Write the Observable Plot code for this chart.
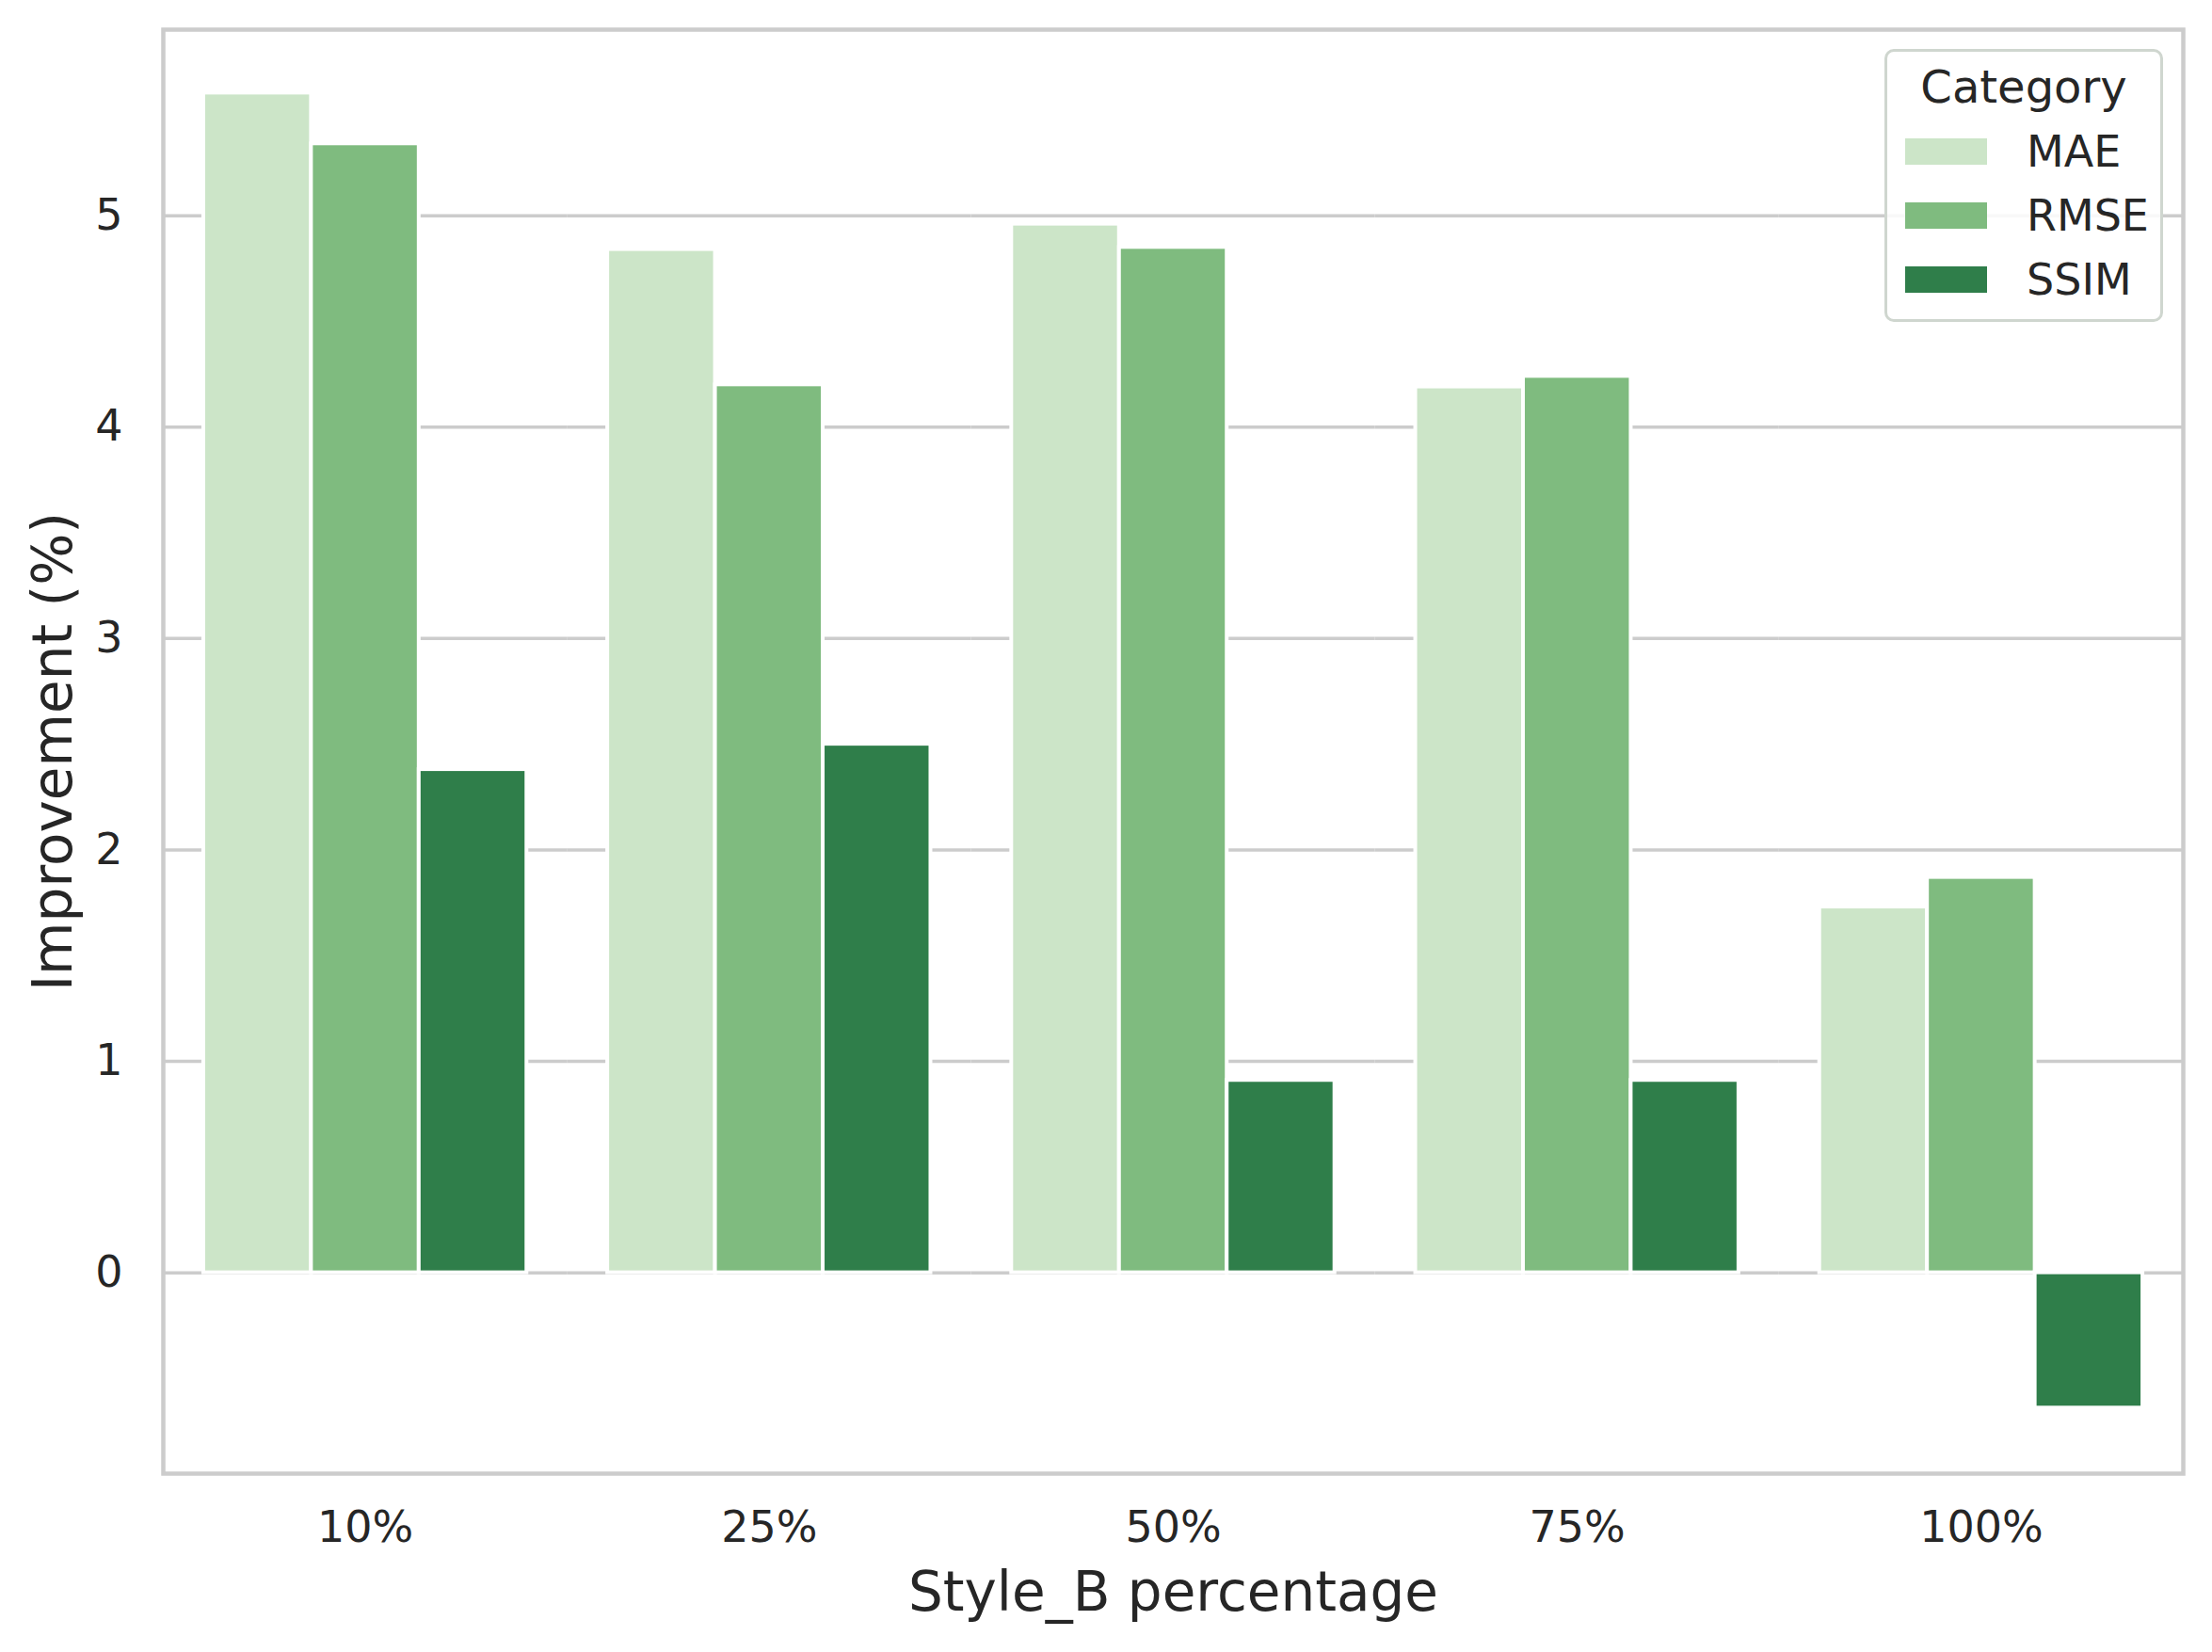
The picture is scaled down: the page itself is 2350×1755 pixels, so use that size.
<!DOCTYPE html>
<html>
<head>
<meta charset="utf-8">
<script src="https://cdn.jsdelivr.net/npm/d3@7"></script>
<script src="https://cdn.jsdelivr.net/npm/@observablehq/plot@0.6"></script>
<style>
  html, body { margin: 0; padding: 0; background: #ffffff; }
  #wrap { position: relative; width: 2350px; height: 1755px; font-family: "DejaVu Sans", sans-serif; }
  #legend {
    position: absolute; left: 2002px; top: 52px; width: 290px; height: 284px;
    border: 3px solid #cfd6cf; border-radius: 10px; background: rgba(255,255,255,0.85);
    color: #262626; font-family: "DejaVu Sans", sans-serif;
  }
  #legend .title { position: absolute; left: 0; width: 100%; top: 9px; text-align: center; font-size: 48px; line-height: 56px; }
  #legend .row { position: absolute; left: 19px; height: 56px; display: flex; align-items: center; }
  #legend .sw { width: 87px; height: 28px; margin-right: 42px; }
  #legend .lab { font-size: 46px; line-height: 56px; }
</style>
</head>
<body>
<div id="wrap"><div id="chart"></div><div id="legend"></div></div>
<script>
const percentages = ["10%", "25%", "50%", "75%", "100%"];
const categories = ["MAE", "RMSE", "SSIM"];
const maeValues = [5.58, 4.84, 4.96, 4.19, 1.73];
const rmseValues = [5.34, 4.20, 4.85, 4.24, 1.87];
const ssimValues = [2.38, 2.50, 0.91, 0.91, -0.64];
const colors = ["#cce5c8", "#7fbb7f", "#2f7e4a"];
const yTicks = [0, 1, 2, 3, 4, 5];
const xTitle = "Style_B percentage";
const yTitle = "Improvement (%)";
const legendTitle = "Category";

const seriesValues = [maeValues, rmseValues, ssimValues];
const rows = [];
percentages.forEach((p, i) => {
  categories.forEach((c, k) => rows.push({pct: p, cat: c, value: seriesValues[k][i]}));
});

const textColor = "#262626";
const chart = Plot.plot({
  width: 2350,
  height: 1755,
  marginLeft: 173,
  marginRight: 31,
  marginTop: 31,
  marginBottom: 190,
  style: {fontFamily: "DejaVu Sans, sans-serif", fontSize: "46px", color: textColor, background: "#ffffff"},
  fx: {domain: percentages, paddingInner: 0, paddingOuter: 0, round: false, label: null, axis: null},
  x: {domain: categories, paddingInner: 0, paddingOuter: 0.375, round: false, axis: null},
  y: {domain: [-0.95, 5.88], axis: null},
  color: {domain: categories, range: colors},
  marks: [
    Plot.ruleY(yTicks, {stroke: "#cccccc", strokeWidth: 3.5}),
    Plot.barY(rows, {fx: "pct", x: "cat", y: "value", fill: "cat", stroke: "white", strokeWidth: 4}),
    Plot.frame({facet: "super", stroke: "#cccccc", strokeWidth: 4.5}),
    Plot.axisY(yTicks, {tickSize: 0, tickPadding: 43, fontSize: 46, fill: textColor, label: null, tickFormat: d => String(d)}),
    Plot.axisFx({anchor: "bottom", tickSize: 0, tickPadding: 40, fontSize: 46, fill: textColor, label: null}),
    Plot.text([xTitle], {facet: "super", frameAnchor: "bottom", dy: 127, textAnchor: "middle", lineAnchor: "middle", fontSize: 58, fill: textColor}),
    Plot.text([yTitle], {facet: "super", frameAnchor: "left", dx: -116, rotate: -90, textAnchor: "middle", lineAnchor: "middle", fontSize: 58, fill: textColor})
  ]
});
document.getElementById("chart").appendChild(chart);

const legend = document.getElementById("legend");
const t = document.createElement("div");
t.className = "title";
t.textContent = legendTitle;
legend.appendChild(t);
const rowTops = [78, 146, 214];
categories.forEach((c, k) => {
  const r = document.createElement("div");
  r.className = "row";
  r.style.top = rowTops[k] + "px";
  const sw = document.createElement("div");
  sw.className = "sw";
  sw.style.background = colors[k];
  const lab = document.createElement("span");
  lab.className = "lab";
  lab.textContent = c;
  r.appendChild(sw);
  r.appendChild(lab);
  legend.appendChild(r);
});
</script>
</body>
</html>
